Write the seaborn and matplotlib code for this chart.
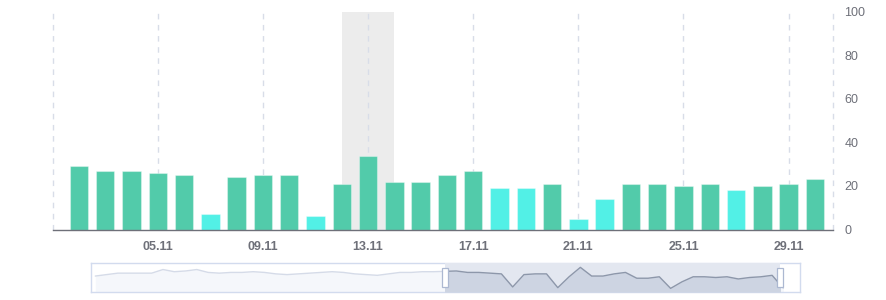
import matplotlib
matplotlib.use("Agg")
import matplotlib.pyplot as plt
import seaborn as sns
import pandas as pd
import numpy as np
from matplotlib.patches import Rectangle

# ---------------- data ----------------
days = ["02.11", "03.11", "04.11", "05.11", "06.11", "07.11", "08.11", "09.11",
        "10.11", "11.11", "12.11", "13.11", "14.11", "15.11", "16.11", "17.11",
        "18.11", "19.11", "20.11", "21.11", "22.11", "23.11", "24.11", "25.11",
        "26.11", "27.11", "28.11", "29.11", "30.11"]
values = [29, 27, 27, 26, 25, 7, 24, 25, 25, 6, 21, 34, 22, 22, 25, 27,
          19, 19, 21, 5, 14, 21, 21, 20, 21, 18, 20, 21, 23]
tick_labels = ["05.11", "09.11", "13.11", "17.11", "21.11", "25.11", "29.11"]
grid_labels = ["01.11"] + tick_labels
y_ticks = [0, 20, 40, 60, 80, 100]
highlight = ("12.11", "14.11")
threshold = 20
# overview (slider) data outside the visible window
oct_values = [22, 24, 26, 26, 26, 26, 31, 28, 29, 31, 27, 26, 27, 27, 28, 27,
              25, 24, 25, 26, 27, 28, 27, 25, 24, 23, 25, 27, 27, 28, 28]
dec_values = [5]


def pos(label):
    """position of a November date on the categorical bar axis"""
    return int(label[:2]) - 2


GREEN = "#52cbaa"
CYAN = "#52f0e6"
GRAY = "#6e7079"
GRID = "#d8dde8"

sns.set_theme(style="white")
plt.rcParams['font.family'] = ['Liberation Sans', 'DejaVu Sans']

W, H = 886, 300
fig = plt.figure(figsize=(W / 100, H / 100), dpi=100)

# ---------------- main chart ----------------
L, R, T, B = 52.7, 833.3, 12, 229.5
ax = fig.add_axes([L / W, 1 - B / H, (R - L) / W, (B - T) / H])

df = pd.DataFrame({"day": days, "value": values})
df["level"] = np.where(df["value"] >= threshold, "high", "low")

ax.axvspan(pos(highlight[0]), pos(highlight[1]), color="#ececec", zorder=0, lw=0)

x_left, x_right = -1, 28.7
for g in grid_labels:
    ax.axvline(pos(g), color=GRID, lw=1, ls=(0, (4, 4)), zorder=0.5, clip_on=False)
ax.axvline(x_right - 0.01, color=GRID, lw=1, ls=(0, (4, 4)), zorder=0.5, clip_on=False)

sns.barplot(data=df, x="day", y="value", hue="level",
            palette={"high": GREEN, "low": CYAN}, dodge=False, width=0.7,
            saturation=1, legend=False, ax=ax,
            edgecolor=(1, 1, 1, 0.35), linewidth=0.8, zorder=2)

ax.set_xlim(x_left, x_right)
ax.set_ylim(0, 100)
ax.set_xticks([pos(t) for t in tick_labels])
ax.set_xticklabels(tick_labels, fontsize=9, fontweight="bold", color=GRAY)
ax.tick_params(axis="x", length=5, width=1, color=GRAY, pad=3, direction="out")
ax.yaxis.tick_right()
ax.set_yticks(y_ticks)
ax.set_yticklabels([str(v) for v in y_ticks], fontsize=9, color=GRAY)
ax.tick_params(axis="y", length=0, pad=8)
ax.set_xlabel("")
ax.set_ylabel("")
for s in ["top", "left", "right"]:
    ax.spines[s].set_visible(False)
ax.spines["bottom"].set_color(GRAY)
ax.spines["bottom"].set_linewidth(1)
ax.spines["bottom"].set_zorder(3)
ax.grid(False)

# ---------------- slider (overview) ----------------
SL, SR, ST, SB = 91, 800, 263, 292
sax = fig.add_axes([SL / W, 1 - SB / H, (SR - SL) / W, (SB - ST) / H])

all_x = list(range(-32, -1)) + [pos(d) for d in days] + [pos(days[-1]) + 1]
all_v = oct_values + values + dec_values
sdf = pd.DataFrame({"x": all_x, "v": all_v})

sax.set_facecolor("white")
sax.fill_between(sdf["x"], sdf["v"], color="#f5f7fb", lw=0, zorder=1)
sns.lineplot(data=sdf, x="x", y="v", color="#d5dbe8", lw=1, ax=sax, zorder=2)

win = Rectangle((x_left, 0), x_right - x_left, 40, transform=sax.transData)
sax.axvspan(x_left, x_right, color="#e3e7f0", lw=0, zorder=3)
sel_fill = sax.fill_between(sdf["x"], sdf["v"], color="#cdd4e2", lw=0, zorder=4)
sel_fill.set_clip_path(win)
sns.lineplot(data=sdf, x="x", y="v", color="#8d97aa", lw=1, ax=sax, zorder=5)
sax.lines[-1].set_clip_path(win)

sax.set_xlim(-32.38, 30.47)
sax.set_ylim(0, 40)
px_x = (30.47 + 32.38) / (SR - SL)
px_y = 40 / (SB - ST)
for hx in (x_left, x_right):
    sax.add_patch(Rectangle((hx - 3 * px_x, 5 * px_y), 6 * px_x, 19 * px_y,
                            facecolor="white", edgecolor="#acb8d1", lw=0.9,
                            zorder=6, clip_on=False))
sax.set_xticks([])
sax.set_yticks([])
sax.set_xlabel("")
sax.set_ylabel("")
for s in sax.spines.values():
    s.set_color("#d2dbee")
    s.set_linewidth(1)

fig.savefig("out.png", dpi=100)
